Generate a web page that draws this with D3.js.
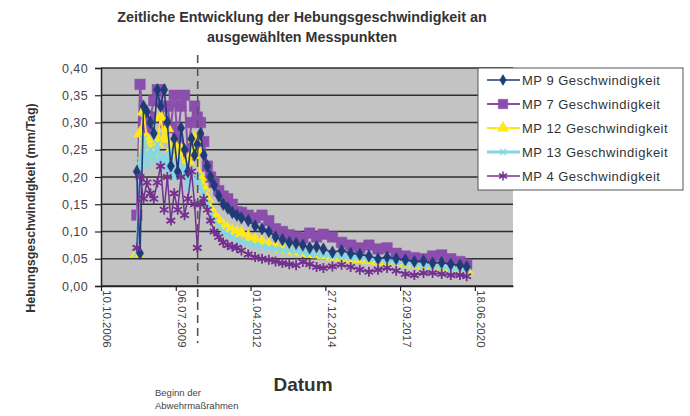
<!DOCTYPE html>
<html>
<head>
<meta charset="utf-8">
<script src="https://cdn.jsdelivr.net/npm/d3@7"></script>
<style>
  body { margin: 0; background: #fff; }
  text { font-family: "Liberation Sans", Arial, sans-serif; }
</style>
</head>
<body>
<svg id="chart"></svg>
<script>
// dates of the measurements
var dates = [
  "2008-02-01","2008-03-15","2008-05-01","2008-06-15","2008-08-01","2008-09-15","2008-11-01","2008-12-15",
  "2009-02-01","2009-03-15","2009-05-01","2009-06-15","2009-08-01","2009-09-15","2009-11-01","2009-12-15",
  "2010-02-01","2010-03-15","2010-04-20",
  "2010-06-01","2010-07-15","2010-09-01","2010-10-15","2010-12-01","2011-02-01","2011-04-01","2011-06-01",
  "2011-08-01","2011-10-01","2011-12-01","2012-03-01","2012-06-01","2012-09-01","2012-12-01","2013-03-01",
  "2013-06-01","2013-09-01","2013-12-01","2014-03-01","2014-06-01","2014-09-01","2014-12-01","2015-04-01",
  "2015-08-01","2015-12-01","2016-04-01","2016-08-01","2016-12-01","2017-04-01","2017-08-01","2017-12-01",
  "2018-04-01","2018-08-01","2018-12-01","2019-04-01","2019-08-01","2019-12-01","2020-03-01"
];

var mp9 = [
  0.21, 0.06, 0.33, 0.32, 0.30, 0.28, 0.36, 0.33, 0.36, 0.30, 0.22, 0.27, 0.21, 0.29, 0.25, 0.21, 0.27, 0.24, 0.26,
  0.28, 0.24, 0.22, 0.20, 0.185, 0.165, 0.15, 0.143, 0.135, 0.13, 0.125, 0.12, 0.11, 0.105, 0.10, 0.09, 0.085,
  0.08, 0.078, 0.075, 0.07, 0.072, 0.068, 0.062, 0.065, 0.06, 0.058, 0.055, 0.05, 0.053, 0.05, 0.048, 0.045,
  0.046, 0.042, 0.043, 0.04, 0.038, 0.035
];
var mp7 = [
  0.13, 0.37, 0.30, 0.29, 0.31, 0.34, 0.36, 0.36, 0.30, 0.33, 0.29, 0.35, 0.27, 0.33, 0.35, 0.24, 0.30, 0.33, 0.31,
  0.30, 0.265, 0.22, 0.20, 0.19, 0.175, 0.165, 0.16, 0.15, 0.136, 0.135, 0.13, 0.125, 0.13, 0.12, 0.105, 0.10,
  0.094, 0.09, 0.088, 0.097, 0.09, 0.095, 0.09, 0.08, 0.075, 0.07, 0.075, 0.068, 0.07, 0.06, 0.055, 0.052,
  0.05, 0.055, 0.057, 0.05, 0.045, 0.04
];
var mp12 = [
  0.06, 0.28, 0.32, 0.27, 0.25, 0.24, 0.26, 0.31, 0.27, 0.29, 0.25, 0.26, 0.24, 0.25, 0.21, 0.23, 0.24, 0.27, 0.25,
  0.20, 0.18, 0.16, 0.14, 0.13, 0.12, 0.11, 0.105, 0.10, 0.098, 0.097, 0.09, 0.085, 0.08, 0.075, 0.072, 0.068,
  0.066, 0.064, 0.062, 0.06, 0.058, 0.056, 0.054, 0.052, 0.05, 0.05, 0.048, 0.046, 0.045, 0.044, 0.042, 0.04,
  0.038, 0.037, 0.035, 0.033, 0.03, 0.028
];
var mp13 = [
  0.06, 0.23, 0.27, 0.22, 0.25, 0.23, 0.26, 0.22, 0.24, 0.21, 0.25, 0.20, 0.23, 0.20, 0.22, 0.18, 0.21, 0.19, 0.20,
  0.18, 0.17, 0.15, 0.13, 0.12, 0.11, 0.10, 0.095, 0.09, 0.085, 0.082, 0.078, 0.075, 0.072, 0.07, 0.068, 0.066,
  0.066, 0.064, 0.062, 0.06, 0.058, 0.057, 0.055, 0.054, 0.052, 0.053, 0.05, 0.048, 0.046, 0.044, 0.042, 0.04,
  0.038, 0.036, 0.035, 0.032, 0.03, 0.026
];
var mp4 = [
  0.07, 0.20, 0.16, 0.19, 0.17, 0.16, 0.19, 0.22, 0.14, 0.20, 0.12, 0.17, 0.14, 0.20, 0.13, 0.16, 0.21, 0.15, 0.07,
  0.15, 0.16, 0.14, 0.12, 0.10, 0.09, 0.08, 0.075, 0.072, 0.07, 0.065, 0.058, 0.053, 0.05, 0.048, 0.045, 0.042,
  0.04, 0.038, 0.044, 0.04, 0.035, 0.033, 0.036, 0.039, 0.035, 0.03, 0.026, 0.03, 0.033, 0.028, 0.022, 0.02,
  0.024, 0.024, 0.022, 0.02, 0.02, 0.018
];

var seriesNames = ["MP 9 Geschwindigkeit", "MP 7 Geschwindigkeit", "MP 12 Geschwindigkeit", "MP 13 Geschwindigkeit", "MP 4 Geschwindigkeit"];
var xTickLabels = ["2006-10-10", "2009-07-06", "2012-04-01", "2014-12-27", "2017-09-22", "2020-06-18"];
var yTicks = [0, 0.05, 0.10, 0.15, 0.20, 0.25, 0.30, 0.35, 0.40];
var startDate = "2006-10-10", endDate = "2021-11-10";
var measureStart = "2010-04-25";

var parse = d3.timeParse("%Y-%m-%d");
var fmtDate = d3.timeFormat("%d.%m.%Y");
var fmtNum = d3.formatLocale({decimal: ",", thousands: ".", grouping: [3], currency: ["", "€"]}).format(".2f");

var W = 690, H = 416;
var margin = {top: 68, right: 177, bottom: 130, left: 101};
var width = W - margin.left - margin.right,
    height = H - margin.top - margin.bottom;

var svg = d3.select("#chart").attr("width", W).attr("height", H);

// title
svg.append("text").attr("x", 302).attr("y", 22).attr("text-anchor", "middle")
  .attr("font-size", 14.3).attr("font-weight", "bold").attr("fill", "#333")
  .text("Zeitliche Entwicklung der Hebungsgeschwindigkeit an");
svg.append("text").attr("x", 302).attr("y", 42).attr("text-anchor", "middle")
  .attr("font-size", 14.3).attr("font-weight", "bold").attr("fill", "#333")
  .text("ausgewählten Messpunkten");

var g = svg.append("g").attr("transform", "translate(" + margin.left + "," + margin.top + ")");

var x = d3.scaleTime().domain([parse(startDate), parse(endDate)]).range([0, width]);
var y = d3.scaleLinear().domain([0, 0.4]).range([height, 0]);

// plot background
g.append("rect").attr("width", width).attr("height", height).attr("fill", "#c3c3c3");

// gridlines
g.selectAll(".grid").data(yTicks).join("line")
  .attr("x1", 0).attr("x2", width)
  .attr("y1", function(d) { return y(d); }).attr("y2", function(d) { return y(d); })
  .attr("stroke", "#2e2e2e").attr("stroke-width", 1.6);

// y axis
var yAxis = g.append("g").call(d3.axisLeft(y).tickValues(yTicks).tickFormat(fmtNum).tickSize(6).tickPadding(7));
yAxis.select(".domain").attr("stroke", "#222").attr("stroke-width", 1.5);
yAxis.selectAll(".tick line").attr("stroke", "#222").attr("stroke-width", 1.2);
yAxis.selectAll("text").attr("font-size", 12.5).attr("fill", "#444").attr("letter-spacing", 0.4)
  .style("font-family", "'Liberation Sans', Arial, sans-serif");

// x axis
var xAxis = g.append("g").attr("transform", "translate(0," + height + ")")
  .call(d3.axisBottom(x).tickValues(xTickLabels.map(parse)).tickFormat(fmtDate).tickSize(5).tickSizeOuter(0));
xAxis.select(".domain").attr("stroke", "#222").attr("stroke-width", 1.5);
xAxis.selectAll(".tick line").attr("stroke", "#222").attr("stroke-width", 1.2);
xAxis.selectAll("text")
  .attr("font-size", 11.5).attr("fill", "#444")
  .style("font-family", "'Liberation Sans', Arial, sans-serif")
  .attr("text-anchor", "start").attr("dy", "0.35em")
  .attr("transform", "translate(0,-3) rotate(90) translate(7,-6)")
  .attr("x", 0).attr("y", 0);

// marker shapes
function markerPath(type, s) {
  if (type === "diamond") return d3.symbol(d3.symbolDiamond, s * s * 0.7)();
  if (type === "square") return d3.symbol(d3.symbolSquare, s * s)();
  if (type === "triangle") return d3.symbol(d3.symbolTriangle, s * s * 0.8)();
  var r = s / 2;
  if (type === "x") return "M" + (-r) + "," + (-r) + "L" + r + "," + r + "M" + (-r) + "," + r + "L" + r + "," + (-r);
  // asterisk
  var a = r * 0.87;
  return "M0," + (-r) + "L0," + r + "M" + (-a) + "," + (-r / 2) + "L" + a + "," + (r / 2) +
         "M" + (-a) + "," + (r / 2) + "L" + a + "," + (-r / 2);
}

var series = [
  {name: seriesNames[0], values: mp9, color: "#1f3b78", marker: "diamond", size: 8, lw: 1.6, filled: true},
  {name: seriesNames[1], values: mp7, color: "#8b4ead", marker: "square", size: 10.5, lw: 2, filled: true},
  {name: seriesNames[2], values: mp12, color: "#ffe81a", marker: "triangle", size: 9.5, lw: 1.8, filled: true},
  {name: seriesNames[3], values: mp13, color: "#86d6e4", marker: "x", size: 7, lw: 3.2, filled: false},
  {name: seriesNames[4], values: mp4, color: "#74308f", marker: "asterisk", size: 10, lw: 1.5, filled: false}
];
var drawOrder = [1, 2, 3, 0, 4];

var line = d3.line()
  .defined(function(d) { return d.v != null; })
  .x(function(d) { return x(d.date); })
  .y(function(d) { return y(d.v); });

drawOrder.forEach(function(i) {
  var s = series[i];
  var pts = dates.map(function(d, k) { return {date: parse(d), v: s.values[k]}; });
  var sg = g.append("g");
  sg.append("path").datum(pts).attr("d", line)
    .attr("fill", "none").attr("stroke", s.color).attr("stroke-width", s.lw).attr("stroke-linejoin", "round");
  sg.selectAll("path.m").data(pts).join("path").attr("class", "m")
    .attr("transform", function(d) { return "translate(" + x(d.date) + "," + y(d.v) + ")"; })
    .attr("d", markerPath(s.marker, s.size))
    .attr("fill", s.filled ? s.color : "none")
    .attr("stroke", s.color).attr("stroke-width", s.filled ? 0.5 : 1.8);
});

// dashed marker for start of measures
var xm = x(parse(measureStart));
g.append("line").attr("x1", xm).attr("x2", xm).attr("y1", -13).attr("y2", height + 57)
  .attr("stroke", "#555").attr("stroke-width", 1.6).attr("stroke-dasharray", "8,5");

svg.append("text").attr("x", 155).attr("y", 396).attr("font-size", 9.5).attr("fill", "#444").text("Beginn der");
svg.append("text").attr("x", 155).attr("y", 409).attr("font-size", 9.5).attr("fill", "#444").text("Abwehrmaßrahmen");

// axis titles
svg.append("text").attr("x", 303).attr("y", 391).attr("text-anchor", "middle")
  .attr("font-size", 19).attr("font-weight", "bold").attr("fill", "#333").text("Datum");
svg.append("text").attr("transform", "translate(35,208) rotate(-90)").attr("text-anchor", "middle")
  .attr("font-size", 12.5).attr("font-weight", "bold").attr("fill", "#333")
  .text("Hebungsgeschwindigkeit (mm/Tag)");

// legend
var lg = svg.append("g").attr("transform", "translate(478,68)");
lg.append("rect").attr("width", 205).attr("height", 122).attr("fill", "#fff").attr("stroke", "#555").attr("stroke-width", 1);
series.forEach(function(s, i) {
  var ly = 12 + i * 24;
  lg.append("line").attr("x1", 9).attr("x2", 42).attr("y1", ly).attr("y2", ly)
    .attr("stroke", s.color).attr("stroke-width", s.lw);
  lg.append("path").attr("transform", "translate(25," + ly + ")")
    .attr("d", markerPath(s.marker, s.size - 1))
    .attr("fill", s.filled ? s.color : "none").attr("stroke", s.color).attr("stroke-width", s.filled ? 0.5 : 1.5);
  lg.append("text").attr("x", 44).attr("y", ly + 4.5).attr("font-size", 13).attr("letter-spacing", 0.5)
    .attr("fill", "#333").text(s.name);
});
</script>
</body>
</html>
